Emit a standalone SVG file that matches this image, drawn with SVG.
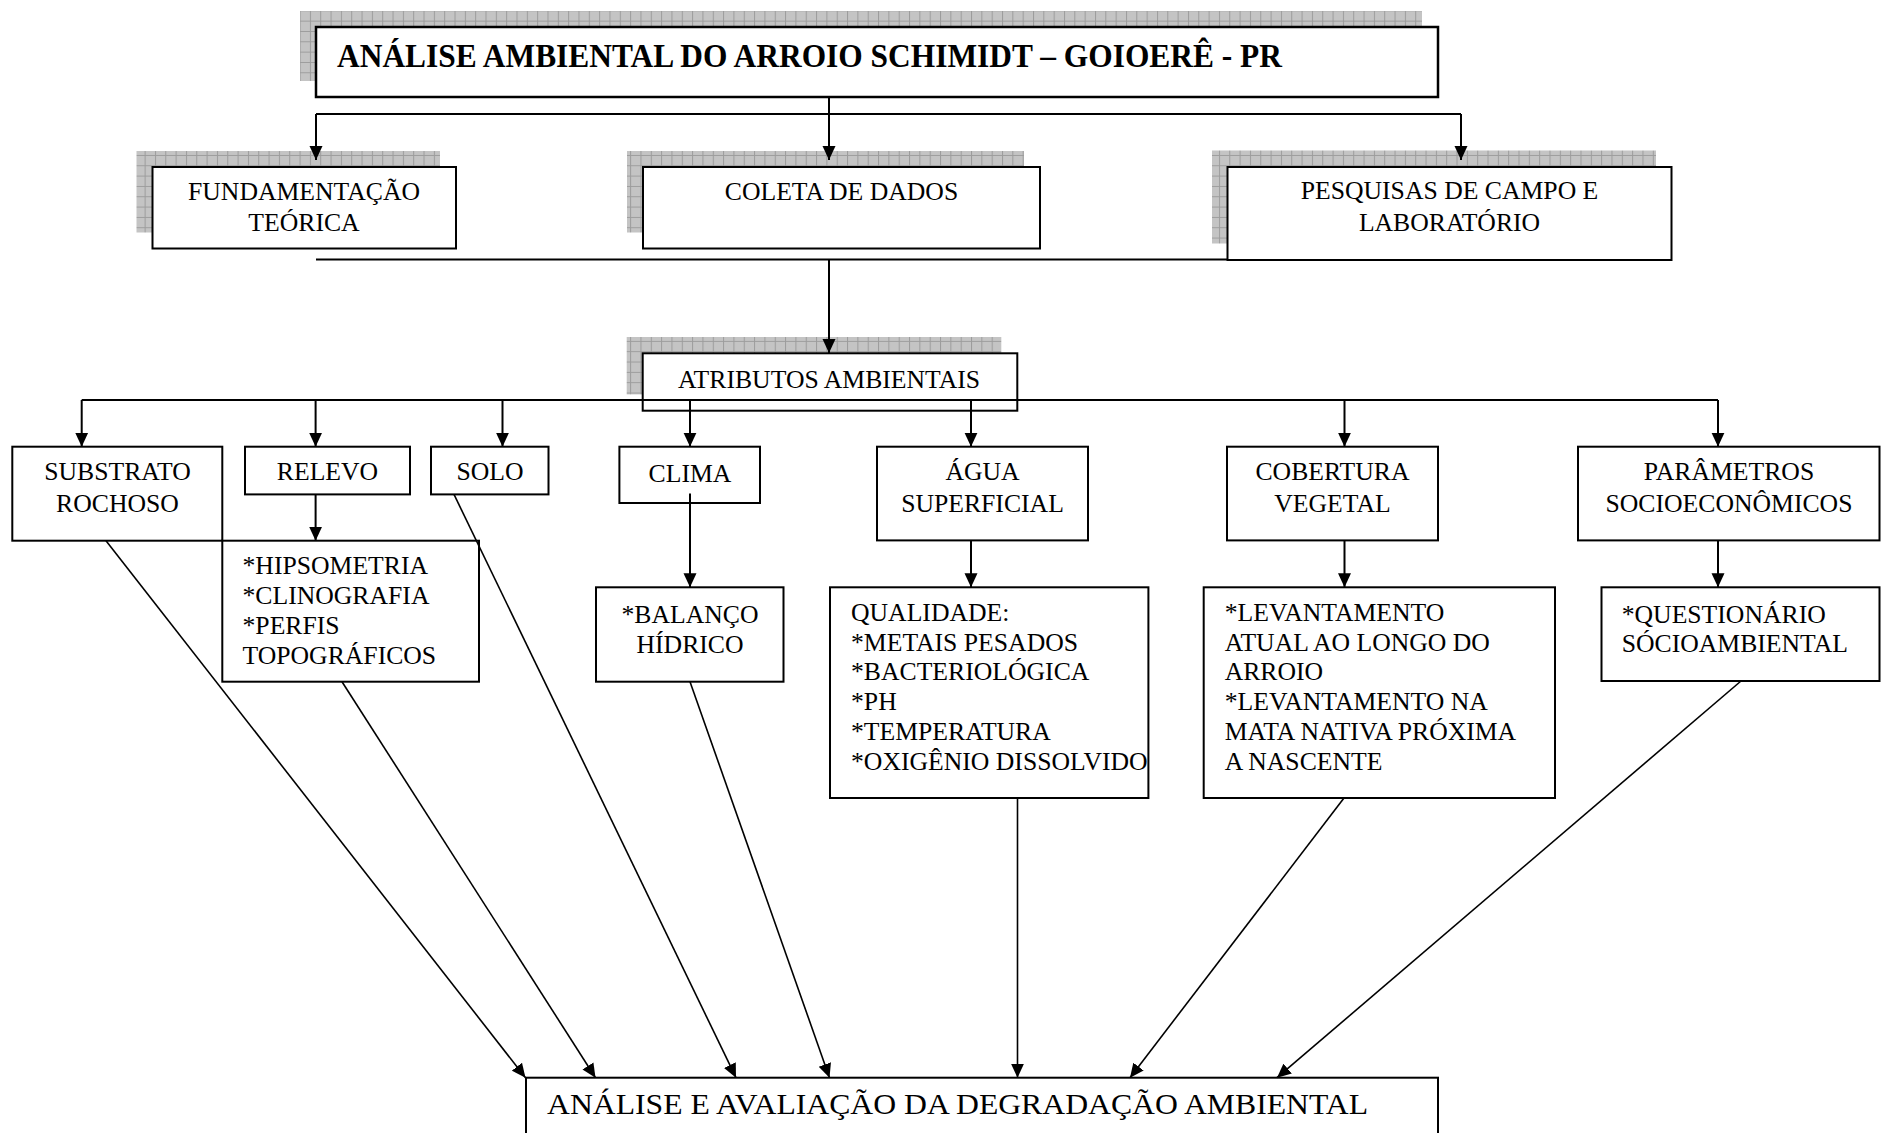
<svg xmlns="http://www.w3.org/2000/svg" width="1881" height="1133" viewBox="0 0 1881 1133">
<style>
.bg{fill:#fff}
.box{fill:#fff;stroke:#000;stroke-width:2}
.shadow{fill:url(#grid)}
.t{font-family:"Liberation Serif","Times New Roman",serif;font-size:25.7px;fill:#000}
.c{text-anchor:middle}
.ln{fill:none;stroke:#000;stroke-width:2}
.dg{fill:none;stroke:#000;stroke-width:1.6}
.arr{marker-end:url(#ah)}
</style>
<defs>
<pattern id="grid" patternUnits="userSpaceOnUse" width="10.33" height="10.33">
<rect width="10.33" height="10.33" fill="#c4c4c4"/>
<path d="M0,0.5 H10.33 M0.5,0 V10.33" stroke="#9c9c9c" stroke-width="1"/>
</pattern>
<marker id="ah" markerUnits="userSpaceOnUse" markerWidth="14" markerHeight="14" viewBox="0 0 14 14" refX="14" refY="7" orient="auto">
<path d="M0,0.5 L14,7 L0,13.5 z" fill="#000"/>
</marker>
</defs>
<rect class="bg" x="0" y="0" width="1881" height="1133"/>

<g id="node-title">
<rect class="shadow" x="300" y="11" width="1122" height="70"/>
<rect class="box" x="316" y="27" width="1122" height="70" style="stroke-width:2.5"/>
<text class="t" x="337" y="67" style="font-size:34px;font-weight:bold" textLength="945" lengthAdjust="spacingAndGlyphs">ANÁLISE AMBIENTAL DO ARROIO SCHIMIDT – GOIOERÊ - PR</text>
</g>

<g id="node-fundamentacao">
<rect class="shadow" x="136.5" y="151" width="303.5" height="81.5"/>
<rect class="box" x="152.5" y="167" width="303.5" height="81.5"/>
<text class="t c" x="304" y="199.5">FUNDAMENTAÇÃO</text>
<text class="t c" x="304" y="230.5">TEÓRICA</text>
</g>

<g id="node-coleta">
<rect class="shadow" x="627" y="151" width="397" height="81.5"/>
<rect class="box" x="643" y="167" width="397" height="81.5"/>
<text class="t c" x="841.5" y="199.5">COLETA DE DADOS</text>
</g>

<g id="node-pesquisas">
<rect class="shadow" x="1212" y="150.5" width="444" height="93"/>
<rect class="box" x="1227.5" y="167" width="444" height="93"/>
<text class="t c" x="1449.5" y="199">PESQUISAS DE CAMPO E</text>
<text class="t c" x="1449.5" y="230.5">LABORATÓRIO</text>
</g>

<g id="node-atributos">
<rect class="shadow" x="626.7" y="337" width="374.6" height="57.4"/>
<rect class="box" x="642.7" y="353.3" width="374.6" height="57.4"/>
<text class="t c" x="829" y="388">ATRIBUTOS AMBIENTAIS</text>
</g>

<g id="node-substrato">
<rect class="box" x="12.3" y="446.7" width="210" height="94"/>
<text class="t c" x="117.5" y="480">SUBSTRATO</text>
<text class="t c" x="117.5" y="511.5">ROCHOSO</text>
</g>

<g id="node-relevo">
<rect class="box" x="245" y="446.7" width="165" height="47.7"/>
<text class="t c" x="327.5" y="480">RELEVO</text>
</g>

<g id="node-solo">
<rect class="box" x="431" y="446.7" width="117.5" height="47.7"/>
<text class="t c" x="490" y="480">SOLO</text>
</g>

<g id="node-clima">
<rect class="box" x="619.4" y="446.7" width="140.6" height="56.3"/>
<text class="t c" x="690" y="482">CLIMA</text>
</g>

<g id="node-agua">
<rect class="box" x="877" y="446.7" width="211" height="93.7"/>
<text class="t c" x="982.5" y="480">ÁGUA</text>
<text class="t c" x="982.5" y="512">SUPERFICIAL</text>
</g>

<g id="node-cobertura">
<rect class="box" x="1227" y="446.7" width="211" height="93.7"/>
<text class="t c" x="1332.5" y="480">COBERTURA</text>
<text class="t c" x="1332.5" y="512">VEGETAL</text>
</g>

<g id="node-parametros">
<rect class="box" x="1578" y="446.7" width="301.5" height="93.7"/>
<text class="t c" x="1729" y="480">PARÂMETROS</text>
<text class="t c" x="1729" y="512">SOCIOECONÔMICOS</text>
</g>

<g id="node-hipsometria">
<rect class="box" x="222.3" y="540.7" width="256.7" height="141"/>
<text class="t" x="242.5" y="574">*HIPSOMETRIA</text>
<text class="t" x="242.5" y="604">*CLINOGRAFIA</text>
<text class="t" x="242.5" y="634">*PERFIS</text>
<text class="t" x="242.5" y="664">TOPOGRÁFICOS</text>
</g>

<g id="node-balanco">
<rect class="box" x="596" y="587.3" width="187.5" height="94.4"/>
<text class="t c" x="690" y="622.5">*BALANÇO</text>
<text class="t c" x="690" y="652.5">HÍDRICO</text>
</g>

<g id="node-qualidade">
<rect class="box" x="830" y="587.3" width="318.4" height="210.7"/>
<text class="t" x="851" y="621">QUALIDADE:</text>
<text class="t" x="851" y="650.5">*METAIS PESADOS</text>
<text class="t" x="851" y="680">*BACTERIOLÓGICA</text>
<text class="t" x="851" y="709.5">*PH</text>
<text class="t" x="851" y="739.5">*TEMPERATURA</text>
<text class="t" x="851" y="769.5">*OXIGÊNIO DISSOLVIDO</text>
</g>

<g id="node-levantamento">
<rect class="box" x="1203.7" y="587.3" width="351.3" height="210.7"/>
<text class="t" x="1224.7" y="621">*LEVANTAMENTO</text>
<text class="t" x="1224.7" y="650.5">ATUAL AO LONGO DO</text>
<text class="t" x="1224.7" y="680">ARROIO</text>
<text class="t" x="1224.7" y="709.5">*LEVANTAMENTO NA</text>
<text class="t" x="1224.7" y="739.5">MATA NATIVA PRÓXIMA</text>
<text class="t" x="1224.7" y="769.5">A NASCENTE</text>
</g>

<g id="node-questionario">
<rect class="box" x="1601.5" y="587.3" width="278" height="93.7"/>
<text class="t" x="1621.7" y="622.5">*QUESTIONÁRIO</text>
<text class="t" x="1621.7" y="652">SÓCIOAMBIENTAL</text>
</g>

<g id="node-analise">
<rect class="box" x="526" y="1077.7" width="912" height="70"/>
<text class="t" x="547" y="1114" style="font-size:30px" textLength="821" lengthAdjust="spacingAndGlyphs">ANÁLISE E AVALIAÇÃO DA DEGRADAÇÃO AMBIENTAL</text>
</g>

<g id="connectors">
<path class="ln" d="M829,97 V114 M316,114 H1461"/>
<path class="ln arr" d="M316,114 V160"/>
<path class="ln arr" d="M829,114 V160"/>
<path class="ln arr" d="M1461,114 V160"/>
<path class="ln" d="M316,259.5 H1227.5"/>
<path class="ln arr" d="M829,259.5 V353"/>
<path class="ln" d="M81.7,400 H1718"/>
<path class="ln arr" d="M81.7,400 V446.7"/>
<path class="ln arr" d="M315.6,400 V446.7"/>
<path class="ln arr" d="M502.5,400 V446.7"/>
<path class="ln arr" d="M690,400 V446.7"/>
<path class="ln arr" d="M971,400 V446.7"/>
<path class="ln arr" d="M1344.5,400 V446.7"/>
<path class="ln arr" d="M1718,400 V446.7"/>
<path class="ln arr" d="M315.6,494.4 V540.7"/>
<path class="ln arr" d="M690,493.6 V587.3"/>
<path class="ln arr" d="M971,540.4 V587.3"/>
<path class="ln arr" d="M1344.5,540.4 V587.3"/>
<path class="ln arr" d="M1718,540.4 V587.3"/>
<path class="dg arr" d="M106,540.7 L525.5,1077.7"/>
<path class="dg arr" d="M342,681.7 L595.5,1077.7"/>
<path class="dg arr" d="M454,494.4 L736,1077.7"/>
<path class="dg arr" d="M690,681.7 L829.5,1077.7"/>
<path class="dg arr" d="M1017.5,798 L1017.5,1077.7"/>
<path class="dg arr" d="M1344,798 L1130,1077.7"/>
<path class="dg arr" d="M1741,681 L1277,1077.7"/>
</g>
</svg>
